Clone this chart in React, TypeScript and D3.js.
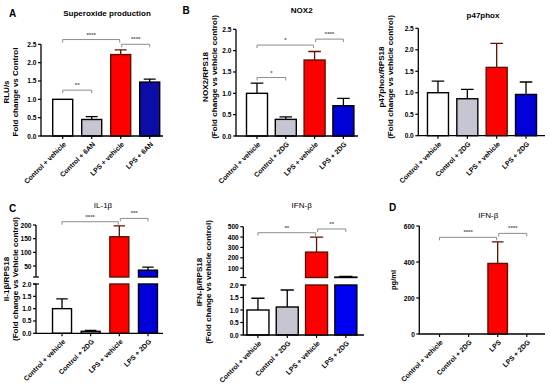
import * as d3 from 'd3';

// group names per panel
const groups6AN = ['Control + vehicle', 'Control + 6AN', 'LPS + vehicle', 'LPS + 6AN'];
const groups2DG = ['Control + vehicle', 'Control + 2DG', 'LPS + vehicle', 'LPS + 2DG'];
const groupsElisa = ['Control + vehicle', 'Control + 2DG', 'LPS', 'LPS + 2DG'];

// means and SEM
const superoxideMean = [1.0, 0.45, 2.22, 1.47];
const superoxideSem = [0, 0.08, 0.13, 0.08];
const nox2Mean = [1.0, 0.39, 1.78, 0.71];
const nox2Sem = [0.24, 0.06, 0.2, 0.17];
const p47Mean = [1.0, 0.86, 1.59, 0.96];
const p47Sem = [0.27, 0.22, 0.56, 0.29];
const il1bMean = [1.0, 0.08, 157, 35];
const il1bSem = [0.4, 0.04, 40, 11];
const ifnbMean = [1.0, 1.12, 255, 14];
const ifnbSem = [0.47, 0.68, 145, 7];
const ifnbPgMean = [0, 0, 392, 0];
const ifnbPgSem = [0, 0, 120, 0];

// tick values
const ticksFold = [0, 0.5, 1.0, 1.5, 2.0, 2.5];
const ticksLow = [0, 0.5, 1.0, 1.5, 2.0];
const ticksIl1bHigh = [50, 100, 150, 200];
const ticksIfnbHigh = [100, 200, 300, 400, 500];
const ticksPg = [0, 200, 400, 600];

// significance brackets: [from, to, height, label]
const bracketsA: [number, number, number, string][] = [[0, 1, 1.25, '**'], [0, 2, 2.63, '****'], [2, 3, 2.5, '****']];
const bracketsNox2: [number, number, number, string][] = [[0, 1, 1.37, '*'], [0, 2, 2.13, '*'], [2, 3, 2.27, '****']];
const bracketsIl1b: [number, number, number, string][] = [[0, 2, 212, '****'], [2, 3, 224, '***']];
const bracketsIfnb: [number, number, number, string][] = [[0, 2, 442, '**'], [2, 3, 478, '**']];
const bracketsPg: [number, number, number, string][] = [[0, 2, 537, '****'], [2, 3, 559, '****']];

const FONT = 'Liberation Sans, Arial, sans-serif';

type Seg = { domain: [number, number]; range: [number, number]; ticks: number[] };

type Spec = {
  groups: string[];
  mean: number[];
  sem: number[];
  axisX: [number, number];
  band: [number, number];
  barW: number;
  segs: Seg[];
  fmt: (v: number) => string;
  title: string;
  titleX: number;
  titleY: number;
  titleBold: boolean;
  letter?: { t: string; x: number; y: number };
  ylab: string[];
  ylabX: number[];
  ylabY: number;
  ylabSize: number;
  brackets: [number, number, number, string][];
  blue: string;
};

const fill = (i: number, blue: string) => ['#ffffff', '#c6c6d2', '#ff0000', blue][i];
const edge = (i: number) => (i === 2 ? '#5e1200' : '#000');

function Panel({ s }: { s: Spec }) {
  const step = (s.band[1] - s.band[0]) / 4;
  const pad = 1 - s.barW / step;
  const x = d3.scaleBand().domain(s.groups).range(s.band).paddingInner(pad).paddingOuter(pad / 2);
  const scales = s.segs.map((g) => d3.scaleLinear().domain(g.domain).range(g.range));
  const top = scales[scales.length - 1];
  const base = s.segs[0].range[0];
  const broken = s.segs.length > 1;

  return (
    <g>
      {s.letter && (
        <text x={s.letter.x} y={s.letter.y} fontSize={10} fontWeight="bold" dominantBaseline="central" textAnchor="middle">
          {s.letter.t}
        </text>
      )}
      <text x={s.titleX} y={s.titleY} fontSize={8} fontWeight={s.titleBold ? 'bold' : 'normal'} textAnchor="middle" dominantBaseline="central">
        {s.title}
      </text>
      {s.ylab.map((t, i) => (
        <text key={i} transform={`translate(${s.ylabX[i]},${s.ylabY}) rotate(-90)`} fontSize={s.ylabSize} fontWeight="bold" textAnchor="middle" dominantBaseline="central">
          {t}
        </text>
      ))}

      {/* bars, clipped to each axis segment */}
      {s.segs.map((g, k) =>
        s.groups.map((grp, i) => {
          const m = s.mean[i];
          if (m <= g.domain[0]) return null;
          const y0 = scales[k](Math.max(g.domain[0], 0));
          const y1 = scales[k](Math.min(m, g.domain[1]));
          return (
            <rect key={`${k}-${i}`} x={x(grp)} y={y1} width={x.bandwidth()} height={y0 - y1} fill={fill(i, s.blue)} stroke={edge(i)} strokeWidth={1.4} />
          );
        })
      )}

      {/* error bars (upper only) */}
      {s.groups.map((grp, i) => {
        const m = s.mean[i];
        if (!s.sem[i]) return null;
        const k = s.segs.findIndex((g) => m <= g.domain[1] && (m > g.domain[0] || g.domain[0] === 0));
        const sc = scales[k];
        const cx = (x(grp) as number) + x.bandwidth() / 2;
        const cw = x.bandwidth() * 0.3;
        return (
          <path key={i} d={`M${cx},${sc(m)}V${sc(m + s.sem[i])}M${cx - cw},${sc(m + s.sem[i])}H${cx + cw}`} stroke={edge(i)} strokeWidth={1.3} fill="none" />
        );
      })}

      {/* y axis segments */}
      {s.segs.map((g, k) => (
        <g key={k} fontSize={6.6} fontWeight="bold">
          <line x1={s.axisX[0]} x2={s.axisX[0]} y1={g.range[0]} y2={g.range[1]} stroke="#000" strokeWidth={1.3} />
          {broken && k > 0 && <line x1={s.axisX[0] - 3} x2={s.axisX[0] + 3} y1={g.range[0]} y2={g.range[0]} stroke="#000" strokeWidth={1.2} />}
          {broken && k === 0 && <line x1={s.axisX[0] - 3} x2={s.axisX[0] + 3} y1={g.range[1]} y2={g.range[1]} stroke="#000" strokeWidth={1.2} />}
          {g.ticks.map((t) => (
            <g key={t}>
              <line x1={s.axisX[0] - 3} x2={s.axisX[0]} y1={scales[k](t)} y2={scales[k](t)} stroke="#000" strokeWidth={1.2} />
              <text x={s.axisX[0] - 4.5} y={scales[k](t)} textAnchor="end" dominantBaseline="central">
                {s.fmt(t)}
              </text>
            </g>
          ))}
        </g>
      ))}

      {/* x axis */}
      <line x1={s.axisX[0] - 0.6} x2={s.axisX[1]} y1={base} y2={base} stroke="#000" strokeWidth={1.3} />
      {s.groups.map((grp) => {
        const cx = (x(grp) as number) + x.bandwidth() / 2;
        return (
          <g key={grp}>
            <line x1={cx} x2={cx} y1={base} y2={base + 3} stroke="#000" strokeWidth={1.2} />
            <text transform={`translate(${cx + 2},${base + 7}) rotate(-45)`} fontSize={6.9} fontWeight="bold" textAnchor="end" dominantBaseline="central">
              {grp}
            </text>
          </g>
        );
      })}

      {/* significance brackets */}
      {s.brackets.map(([a, b, v, lab], j) => {
        const xa = (x(s.groups[a]) as number) + x.bandwidth() / 2 + (a === 2 ? 1 : 0);
        const xb = (x(s.groups[b]) as number) + x.bandwidth() / 2 - (b === 2 ? 1 : 0);
        const y = top(v);
        return (
          <g key={j}>
            <path d={`M${xa},${y + 3}V${y}H${xb}V${y + 3}`} stroke="#808080" strokeWidth={0.9} fill="none" />
            <text x={(xa + xb) / 2} y={y - 3} fontSize={6} fontWeight="bold" fill="#555" textAnchor="middle">
              {lab}
            </text>
          </g>
        );
      })}
    </g>
  );
}

const f1 = d3.format('.1f');
const f0 = d3.format('d');

const specs: Spec[] = [
  {
    groups: groups6AN, mean: superoxideMean, sem: superoxideSem,
    axisX: [41, 163], band: [48.2, 164.2], barW: 20,
    segs: [{ domain: [0, 2.5], range: [136, 44.3], ticks: ticksFold }], fmt: f1,
    title: 'Superoxide production', titleX: 107, titleY: 13, titleBold: true,
    letter: { t: 'A', x: 12.5, y: 13 },
    ylab: ['RLU/s', 'Fold change vs Control'], ylabX: [6.5, 15], ylabY: 92, ylabSize: 8,
    brackets: bracketsA, blue: '#0c0ca8',
  },
  {
    groups: groups2DG, mean: nox2Mean, sem: nox2Sem,
    axisX: [236, 358], band: [242.6, 357.8], barW: 21,
    segs: [{ domain: [0, 2.5], range: [136, 29.3], ticks: ticksFold }], fmt: f1,
    title: 'NOX2', titleX: 301.7, titleY: 10, titleBold: true,
    letter: { t: 'B', x: 186, y: 10 },
    ylab: ['NOX2/RPS18', '(Fold change vs vehicle control)'], ylabX: [205, 214], ylabY: 77, ylabSize: 8.1,
    brackets: bracketsNox2, blue: '#0000d8',
  },
  {
    groups: groups2DG, mean: p47Mean, sem: p47Sem,
    axisX: [418.3, 545], band: [423.3, 540.7], barW: 21,
    segs: [{ domain: [0, 2.5], range: [135.7, 28.3], ticks: ticksFold }], fmt: f1,
    title: 'p47phox', titleX: 483, titleY: 15, titleBold: true,
    ylab: ['p47phox/RPS18', '(Fold change vs vehicle control)'], ylabX: [381.5, 390.5], ylabY: 77, ylabSize: 8.1,
    brackets: [], blue: '#0000d8',
  },
  {
    groups: groups2DG, mean: il1bMean, sem: il1bSem,
    axisX: [36, 163], band: [47.7, 162.3], barW: 19,
    segs: [
      { domain: [0, 2], range: [333.3, 284], ticks: ticksLow },
      { domain: [10, 200], range: [277, 225], ticks: ticksIl1bHigh },
    ],
    fmt: (v) => (v < 10 ? f1(v) : f0(v)),
    title: 'IL-1β', titleX: 103, titleY: 205, titleBold: false,
    letter: { t: 'C', x: 12.5, y: 208 },
    ylab: ['Il-1β/RPS18', '(Fold change vs Vehicle control)'], ylabX: [6, 15.5], ylabY: 279, ylabSize: 8.1,
    brackets: bracketsIl1b, blue: '#0000d8',
  },
  {
    groups: groups2DG, mean: ifnbMean, sem: ifnbSem,
    axisX: [243.3, 364], band: [243.3, 360.5], barW: 22,
    segs: [
      { domain: [0, 2], range: [335, 285], ticks: ticksLow },
      { domain: [10, 500], range: [277.5, 226.7], ticks: ticksIfnbHigh },
    ],
    fmt: (v) => (v < 10 ? f1(v) : f0(v)),
    title: 'IFN-β', titleX: 301.7, titleY: 205, titleBold: false,
    ylab: ['IFN-β/RPS18', '(Fold change vs vehicle control)'], ylabX: [199, 208.5], ylabY: 282, ylabSize: 8.1,
    brackets: bracketsIfnb, blue: '#0000f0',
  },
  {
    groups: groupsElisa, mean: ifnbPgMean, sem: ifnbPgSem,
    axisX: [419.3, 545], band: [425, 541.3], barW: 19.5,
    segs: [{ domain: [0, 600], range: [334, 226], ticks: ticksPg }], fmt: f0,
    title: 'IFN-β', titleX: 488.3, titleY: 215, titleBold: false,
    letter: { t: 'D', x: 392.7, y: 207 },
    ylab: ['pg/ml'], ylabX: [393], ylabY: 280, ylabSize: 7.5,
    brackets: bracketsPg, blue: '#0000d8',
  },
];

export default function App() {
  return (
    <svg width={550} height={388} style={{ position: 'absolute', left: 0, top: 0, background: '#fff' }} fontFamily={FONT}>
      {specs.map((s, i) => (
        <Panel key={i} s={s} />
      ))}
    </svg>
  );
}
